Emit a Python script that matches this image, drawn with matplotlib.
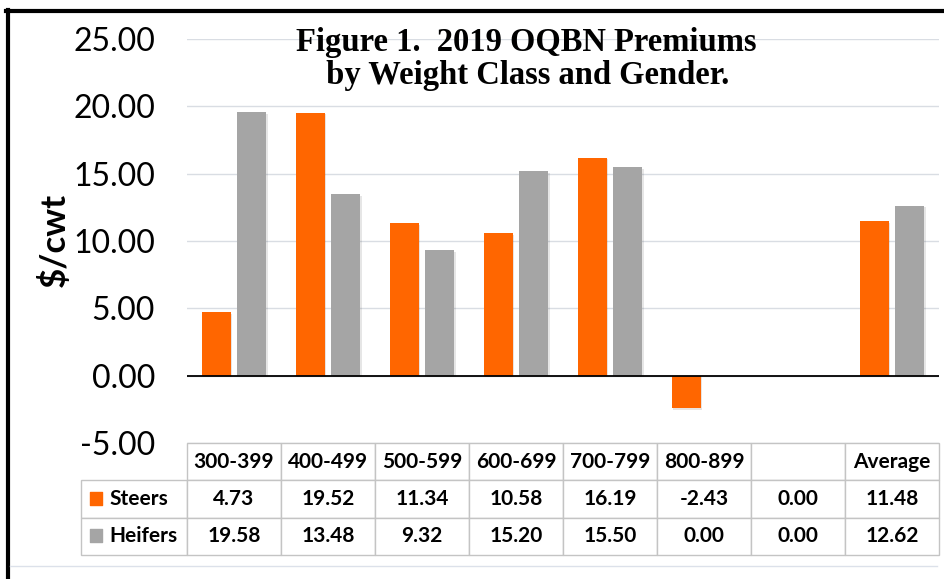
import numpy as np
import matplotlib.pyplot as plt
import matplotlib.patheffects as pe
from matplotlib.lines import Line2D

# data
weight_classes = ['300-399', '400-499', '500-599', '600-699', '700-799', '800-899', '', 'Average']
steers = [4.73, 19.52, 11.34, 10.58, 16.19, -2.43, 0.00, 11.48]
heifers = [19.58, 13.48, 9.32, 15.20, 15.50, 0.00, 0.00, 12.62]
series_names = ['Steers', 'Heifers']
colors = ['#FF6600', '#A5A5A5']
yticks = [-5, 0, 5, 10, 15, 20, 25]

plt.rcParams['font.family'] = ['Lato', 'DejaVu Sans']

W, H = 945, 579
fig = plt.figure(figsize=(W/100, H/100), dpi=100)
ax = fig.add_axes([187/W, 1 - 443/H, 752/W, 404/H])

x = np.arange(len(weight_classes))
shadow = [pe.SimplePatchShadow(offset=(1.2, -1.2), alpha=0.12), pe.Normal()]
for vals, off, c in zip([steers, heifers], [-0.19, 0.19], colors):
    bars = ax.bar(x + off, vals, width=0.31, color=c, zorder=3)
    for b in bars:
        b.set_path_effects(shadow)

ax.axhline(0, color='black', lw=1.3, zorder=4)
ax.set_xlim(-0.5, len(weight_classes) - 0.5)
ax.set_ylim(-5, 25)
ax.set_yticks(yticks)
ax.set_yticklabels(['%.2f' % t for t in yticks])
ax.tick_params(axis='y', length=0, pad=23, labelsize=23)
ax.set_xticks([])
ax.grid(axis='y', color='#D9DDE3', lw=1, zorder=0)
for s in ax.spines.values():
    s.set_visible(False)

# data table under the bars
rows = [[''] + weight_classes]
for name, vals in zip(series_names, [steers, heifers]):
    rows.append([name] + ['%.2f' % v for v in vals])
col_w = [106] + [94] * len(weight_classes)
tbl = ax.table(cellText=rows, colWidths=[w / sum(col_w) for w in col_w],
               cellLoc='center', bbox=[-106/752, -112/404, 858/752, 112/404])
tbl.auto_set_font_size(False)
for (r, c), cell in tbl.get_celld().items():
    cell.set_edgecolor('#C4C4C4')
    cell.set_linewidth(1)
    cell.get_text().set_fontsize(15)
    cell.get_text().set_fontweight('bold')
    if r == 0 and c == 0:
        cell.visible_edges = ''
    elif c == 0:
        cell.get_text().set_ha('left')
        cell.PAD = 0.27

ax.scatter([-91/752] * 2, [-(37 + 18.5)/404, -(74 + 18.5)/404], marker='s', s=80,
           color=colors, transform=ax.transAxes, clip_on=False, zorder=10)

# title and axis label
fig.text(526/W, 1 - 51/H, 'Figure 1.  2019 OQBN Premiums', family='Liberation Serif',
         weight='bold', size=23.5, ha='center', va='baseline')
fig.text(524/W, 1 - 84/H, ' by Weight Class and Gender.', family='Liberation Serif',
         weight='bold', size=23.5, ha='center', va='baseline')
fig.text(54/W, 1 - 240/H, '$/cwt', rotation=90, weight='bold', size=25,
         ha='center', va='center')

# frame
fig.add_artist(Line2D([8/W, 8/W], [0, 1 - 9.5/H], color='black', lw=3))
fig.add_artist(Line2D([6.5/W, 1], [1 - 11/H, 1 - 11/H], color='black', lw=3))
fig.add_artist(Line2D([10/W, 937/W], [1 - 566/H, 1 - 566/H], color='#DCE1EA', lw=1))

fig.savefig('out.png', dpi=100)
